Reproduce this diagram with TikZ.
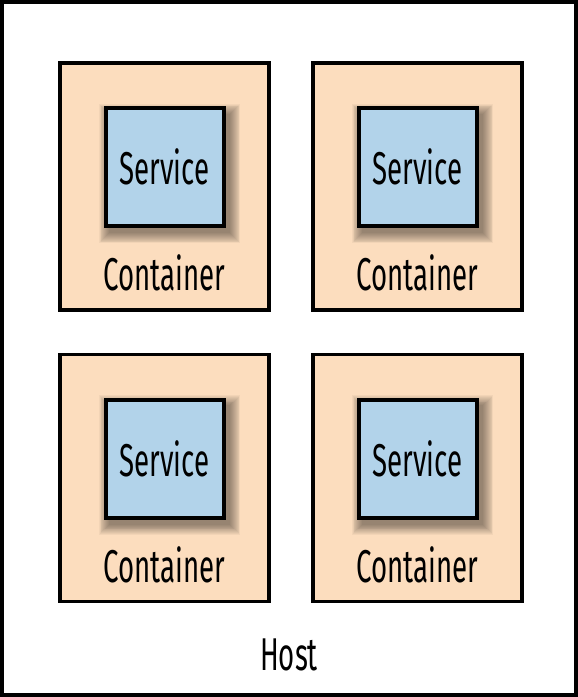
\documentclass[tikz,border=0pt]{standalone}
\usepackage{fontspec}
\setmainfont[FakeStretch=0.6]{Fira Sans}
\usetikzlibrary{positioning}
\definecolor{peach}{HTML}{FCDDBE}
\definecolor{paleblue}{HTML}{B2D3EA}
\tikzset{
  contbox/.style={draw,line width=1.7pt,fill=peach,minimum width=104.5pt,minimum height=123.5pt,inner sep=0pt},
  servbox/.style={draw,line width=2pt,fill=paleblue,minimum size=59pt,inner sep=0pt,font=\fontsize{23}{26}\selectfont},
  lbl/.style={font=\fontsize{23}{26}\selectfont,inner sep=0pt}
}
\begin{document}
\begin{tikzpicture}[x=0.5pt,y=-0.5pt]
  \useasboundingbox (0,0) rectangle (578,697);
  \fill[white] (0,0) rectangle (578,697);
  \draw[line width=2pt] (2,2) rectangle (576,695);
  % containers with their services
  \foreach \cx/\cy/\n in {164.5/186.5/a, 417.5/186.5/b, 164.5/478/c, 417.5/478/d}{
    \node[contbox] (cont\n) at (\cx,\cy) {};
    \foreach \k in {1,...,12}
      \fill[black,opacity=0.04] (\cx-60+5-0.9*\k,\cy-79+7-0.9*\k) rectangle (\cx+60+5+0.9*\k,\cy+39+7+0.9*\k);
    \node[servbox] (serv\n) at (\cx,\cy-19.5) {Service};
    \node[lbl] (lbl\n) at (\cx,\cy+86.5) {Container};
  }
  \node[lbl] (host) at (289,655) {Host};
\end{tikzpicture}
\end{document}
